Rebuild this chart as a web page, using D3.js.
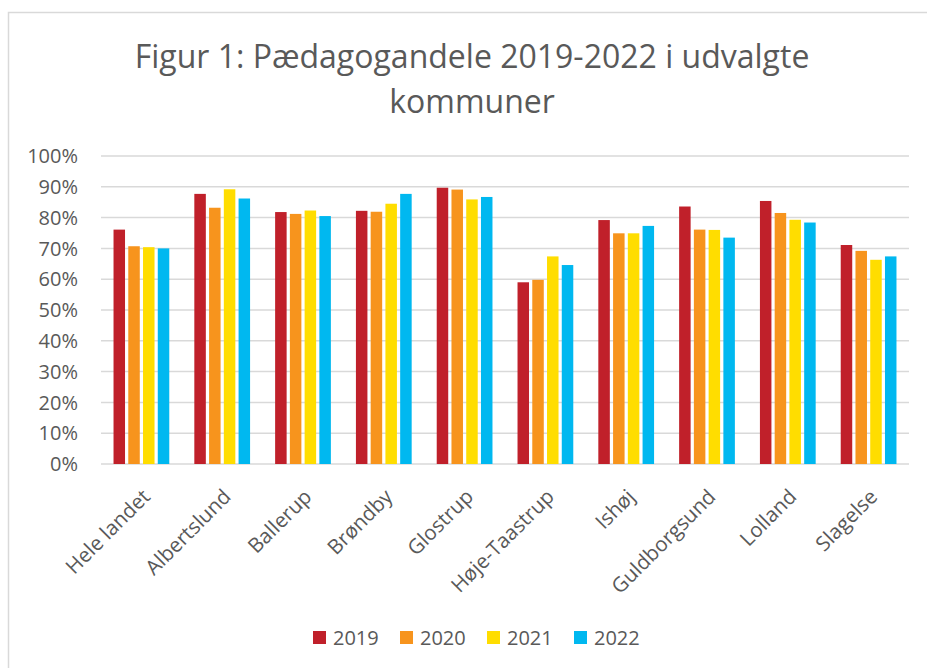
<!DOCTYPE html>
<html>
<head>
<meta charset="utf-8">
<script src="https://cdn.jsdelivr.net/npm/d3@7"></script>
<style>
    body { margin: 0; background: #fff; }
    svg text { font-family: "Open Sans", sans-serif; fill: #595959; }
</style>
</head>
<body>
<svg id="chart"></svg>
<script>
const categories = ["Hele landet", "Albertslund", "Ballerup", "Brøndby", "Glostrup",
    "Høje-Taastrup", "Ishøj", "Guldborgsund", "Lolland", "Slagelse"];
const years = ["2019", "2020", "2021", "2022"];
const values2019 = [76.1, 87.7, 81.8, 82.2, 89.7, 59.0, 79.2, 83.6, 85.4, 71.1];
const values2020 = [70.7, 83.2, 81.2, 81.9, 89.1, 59.8, 74.9, 76.1, 81.5, 69.2];
const values2021 = [70.4, 89.2, 82.3, 84.5, 85.9, 67.4, 74.9, 76.0, 79.3, 66.3];
const values2022 = [70.0, 86.2, 80.5, 87.7, 86.7, 64.6, 77.3, 73.5, 78.4, 67.4];
const yTicks = [0, 10, 20, 30, 40, 50, 60, 70, 80, 90, 100];
const titleLines = ["Figur 1: Pædagogandele 2019-2022 i udvalgte", "kommuner"];

class GroupedBarChart {
    constructor(_config) {
        this.config = {
            parentElement: _config.parentElement,
            containerWidth: _config.containerWidth || 927,
            containerHeight: _config.containerHeight || 668,
            margin: _config.margin || { top: 156, right: 18, bottom: 204, left: 101 },
        }
        this.colors = ["#C0202A", "#F7941D", "#FFDD00", "#00B8F0"];
        this.series = [values2019, values2020, values2021, values2022];
        this.initVis();
    }

    initVis() {
        let vis = this;
        vis.width = vis.config.containerWidth - vis.config.margin.left - vis.config.margin.right;
        vis.height = vis.config.containerHeight - vis.config.margin.top - vis.config.margin.bottom;

        vis.svg = d3.select(vis.config.parentElement)
            .attr("width", vis.config.containerWidth)
            .attr("height", vis.config.containerHeight);

        // chart frame (only top and left edge visible in the crop)
        vis.svg.append("rect")
            .attr("x", 8.5)
            .attr("y", 12.5)
            .attr("width", 940)
            .attr("height", 680)
            .attr("fill", "none")
            .attr("stroke", "#d9d9d9")
            .attr("stroke-width", 1.5);

        vis.chart = vis.svg.append("g")
            .attr("transform", `translate(${vis.config.margin.left},${vis.config.margin.top})`);

        vis.xScale = d3.scaleBand()
            .domain(categories)
            .range([0, vis.width])
            .paddingInner(0.31)
            .paddingOuter(0.155);

        vis.xSub = d3.scaleBand()
            .domain(years)
            .range([0, vis.xScale.bandwidth()])
            .paddingInner(0.22);

        vis.yScale = d3.scaleLinear()
            .domain([0, 100])
            .range([vis.height, 0]);

        vis.renderVis();
    }

    renderVis() {
        let vis = this;

        // gridlines
        vis.chart.append("g")
            .selectAll("line")
            .data(yTicks)
            .join("line")
            .attr("x1", 0)
            .attr("x2", vis.width)
            .attr("y1", d => vis.yScale(d))
            .attr("y2", d => vis.yScale(d))
            .attr("stroke", "#d9d9d9")
            .attr("stroke-width", 1.5);

        // y tick labels
        vis.chart.append("g")
            .selectAll("text")
            .data(yTicks)
            .join("text")
            .attr("x", -23)
            .attr("y", d => vis.yScale(d))
            .attr("dy", "0.36em")
            .attr("text-anchor", "end")
            .attr("font-size", 20)
            .text(d => d + "%");

        // bars
        let groups = vis.chart.append("g")
            .selectAll("g")
            .data(categories)
            .join("g")
            .attr("transform", d => `translate(${vis.xScale(d)},0)`);

        groups.selectAll("rect")
            .data((d, i) => years.map((y, j) => ({ year: y, value: vis.series[j][i], idx: j })))
            .join("rect")
            .attr("x", d => vis.xSub(d.year))
            .attr("width", vis.xSub.bandwidth())
            .attr("y", d => vis.yScale(d.value))
            .attr("height", d => vis.height - vis.yScale(d.value))
            .attr("fill", d => vis.colors[d.idx]);

        // category labels, rotated
        vis.chart.append("g")
            .selectAll("text")
            .data(categories)
            .join("text")
            .attr("transform", d => `translate(${vis.xScale(d) + vis.xScale.bandwidth() / 2 + 10},${vis.height + 34}) rotate(-45)`)
            .attr("text-anchor", "end")
            .attr("font-size", 20.5)
            .text(d => d);

        // title
        vis.svg.append("text")
            .attr("x", 472)
            .attr("y", 68)
            .attr("text-anchor", "middle")
            .attr("font-size", 32)
            .selectAll("tspan")
            .data(titleLines)
            .join("tspan")
            .attr("x", 472)
            .attr("dy", (d, i) => i === 0 ? 0 : 45)
            .text(d => d);

        // legend
        let legend = vis.svg.append("g")
            .attr("transform", "translate(313,631)");

        let items = legend.selectAll("g")
            .data(years)
            .join("g")
            .attr("transform", (d, i) => `translate(${i * 87},0)`);

        items.append("rect")
            .attr("width", 13)
            .attr("height", 13)
            .attr("fill", (d, i) => vis.colors[i]);

        items.append("text")
            .attr("x", 20)
            .attr("y", 14)
            .attr("font-size", 20)
            .text(d => d);
    }
}

new GroupedBarChart({ parentElement: "#chart" });
</script>
</body>
</html>
